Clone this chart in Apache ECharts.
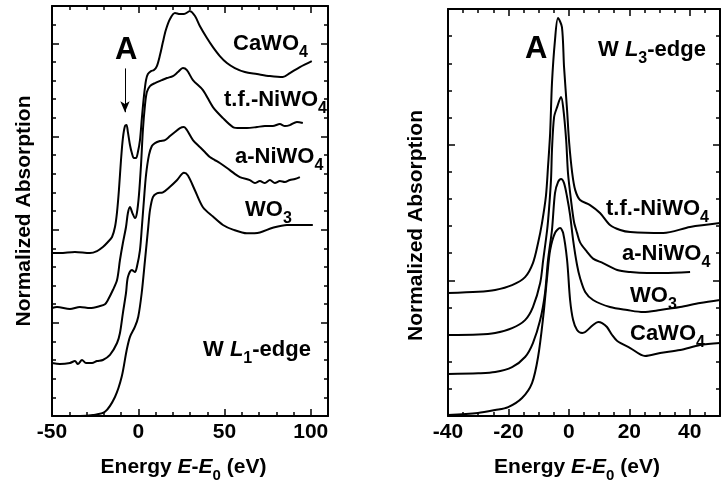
<!DOCTYPE html>
<html><head><meta charset="utf-8">
<script src="https://cdn.jsdelivr.net/npm/echarts@6/dist/echarts.min.js"></script>
<style>html,body{margin:0;padding:0;background:#fff}#c{width:721px;height:481px}</style>
</head><body><div id="c"></div>
<script>
// ---- W L1-edge panel (x: E-E0 in eV, y: normalized absorption, offset) ----
const l1CaWO4 = [[-50,1.749],[-45.4,1.749],[-36.7,1.76],[-28.0,1.749],[-23.9,1.77],[-20.5,1.813],[-17.6,1.867],[-15.2,1.921],[-13.5,2.028],[-12.3,2.189],[-11.2,2.425],[-10.0,2.747],[-8.9,2.983],[-7.7,3.112],[-6.8,3.122],[-6.0,3.047],[-4.8,2.908],[-3.7,2.822],[-2.5,2.768],[-1.3,2.768],[-0.2,2.833],[1.0,2.961],[2.1,3.197],[3.3,3.433],[4.5,3.605],[5.6,3.67],[7.4,3.702],[9.1,3.712],[10.8,3.755],[12.6,3.873],[14.3,4.013],[16.0,4.142],[18.4,4.26],[21.3,4.324],[24.2,4.313],[26.5,4.313],[30.0,4.345],[32.9,4.292],[35.7,4.185],[39.8,4.056],[43.3,3.959],[47.3,3.863],[51.4,3.788],[56.0,3.734],[61.8,3.691],[68.8,3.67],[76.3,3.648],[83.8,3.637],[87.9,3.68],[93.7,3.745],[100.6,3.809]];
const l1TfNiWO4 = [[-50,1.159],[-47.1,1.17],[-39.6,1.148],[-33.8,1.17],[-28.0,1.159],[-22.2,1.18],[-19.3,1.20],[-17.6,1.245],[-14.7,1.352],[-12.3,1.459],[-10.6,1.674],[-8.9,1.856],[-7.1,2.028],[-6.0,2.178],[-4.8,2.242],[-3.4,2.178],[-1.9,2.124],[-0.8,2.178],[0.4,2.371],[1.6,2.693],[2.7,3.069],[3.9,3.337],[5.0,3.476],[6.8,3.541],[9.7,3.573],[13.7,3.605],[16.6,3.627],[20.1,3.648],[23.0,3.691],[25.9,3.734],[28.2,3.712],[31.7,3.605],[37.5,3.498],[43.3,3.315],[49.1,3.197],[54.9,3.101],[58.9,3.09],[63.0,3.09],[68.8,3.101],[73.4,3.112],[78.0,3.112],[82.1,3.133],[85.0,3.112],[87.9,3.122],[92.0,3.155],[95.4,3.144]];
const l1ANiWO4 = [[-50,0.569],[-45.4,0.558],[-39.6,0.569],[-36.7,0.59],[-35.0,0.558],[-32.6,0.601],[-30.3,0.569],[-26.8,0.569],[-23.9,0.59],[-20.5,0.601],[-16.4,0.655],[-12.3,0.783],[-10.6,0.891],[-8.9,1.105],[-7.1,1.32],[-6.0,1.491],[-3.7,1.567],[-1.9,1.545],[-0.8,1.599],[1.0,1.781],[2.1,2.028],[3.3,2.318],[4.5,2.586],[6.2,2.80],[7.9,2.897],[9.7,2.929],[12.6,2.951],[15.5,2.961],[18.4,3.004],[21.3,3.047],[24.2,3.09],[26.5,3.101],[28.2,3.069],[31.7,2.961],[35.7,2.886],[38.6,2.833],[41.5,2.779],[44.4,2.747],[47.3,2.715],[53.1,2.639],[58.9,2.564],[64.7,2.532],[67.6,2.50],[70.5,2.521],[73.4,2.50],[76.3,2.532],[79.2,2.50],[82.1,2.521],[85.0,2.511],[87.9,2.532],[90.8,2.543],[93.7,2.564]];
const l1WO3 = [[-50,0.0],[-33.8,0.0],[-26.2,0.011],[-19.3,0.045],[-13.5,0.204],[-9.6,0.42],[-6.7,0.708],[-4.8,0.85],[-1.9,0.958],[0.0,1.065],[2.0,1.32],[3.9,1.67],[5.8,2.03],[6.8,2.21],[8.5,2.35],[10.8,2.39],[14.3,2.40],[18.4,2.46],[22.4,2.53],[26.5,2.61],[28.8,2.58],[32.9,2.42],[37.5,2.24],[43.3,2.14],[49.1,2.05],[54.9,2.00],[63.0,1.96],[70.5,1.97],[78.0,2.02],[86.2,2.05],[93.7,2.05],[101.2,2.05]];
const l1XTickLabels = [-50, 0, 50, 100];

// ---- W L3-edge panel ----
const l3TfNiWO4 = [[-40,0.906],[-30,0.915],[-24.4,0.929],[-18.8,0.965],[-14.5,1.024],[-11.9,1.127],[-10.2,1.275],[-8.9,1.422],[-7.6,1.62],[-6.9,1.84],[-6.2,2.085],[-5.6,2.454],[-4.6,2.771],[-3.6,2.933],[-2.3,2.867],[-1.6,2.572],[-0.6,2.255],[0.1,2.012],[1.1,1.791],[2.1,1.665],[3.7,1.592],[7.0,1.555],[10.3,1.496],[13.6,1.408],[17.0,1.371],[20.3,1.356],[31.2,1.349],[40.1,1.393],[50,1.422]];
const l3ANiWO4 = [[-40,0.597],[-30,0.600],[-24.4,0.612],[-18.8,0.648],[-14.5,0.707],[-11.9,0.803],[-9.5,0.980],[-8.5,1.150],[-7.2,1.371],[-6.6,1.518],[-5.9,1.75],[-5.6,1.96],[-4.9,2.203],[-3.9,2.277],[-2.6,2.351],[-1.9,2.277],[-0.9,2.034],[-0.3,1.791],[0.7,1.592],[1.7,1.43],[2.7,1.35],[3.7,1.28],[6.0,1.21],[8.0,1.16],[11.3,1.127],[16.0,1.076],[20.3,1.061],[25.9,1.054],[31.2,1.054],[40.1,1.061]];
const l3WO3 = [[-40,0.310],[-30,0.315],[-24.4,0.324],[-18.8,0.361],[-14.5,0.435],[-11.9,0.538],[-9.5,0.707],[-7.9,0.906],[-6.9,1.150],[-5.6,1.371],[-4.6,1.643],[-3.6,1.724],[-2.6,1.747],[-1.6,1.717],[-0.6,1.614],[0.4,1.481],[1.4,1.297],[2.7,1.113],[3.7,1.017],[5.4,0.914],[8.0,0.855],[13.6,0.803],[19.3,0.781],[24.6,0.766],[30.2,0.781],[36.8,0.803],[43.4,0.833],[50,0.855]];
const l3CaWO4 = [[-40,0.007],[-30.1,0.022],[-24.4,0.044],[-20.1,0.066],[-15.5,0.133],[-12.2,0.243],[-10.2,0.435],[-8.5,0.730],[-7.2,1.024],[-6.2,1.223],[-4.6,1.349],[-2.9,1.385],[-1.9,1.349],[-0.6,1.150],[0.4,0.855],[1.4,0.707],[2.7,0.634],[4.4,0.612],[5.4,0.619],[8.0,0.671],[9.7,0.693],[11.0,0.685],[12.6,0.656],[14.3,0.597],[16.0,0.553],[20.3,0.501],[25.2,0.442],[30.2,0.464],[36.8,0.486],[43.4,0.523],[50,0.538]];
const l3XTickLabels = [-40, -20, 0, 20, 40];

const FONT = '"Liberation Sans", Arial, Helvetica, sans-serif';
const chart = echarts.init(document.getElementById('c'), null, {renderer: 'canvas'});

function richSet(size, subSize, subPad) {
  return {
    n: {fontFamily: FONT, fontWeight: 'bold', fontSize: size, color: '#000', fill: '#000'},
    i: {fontFamily: FONT, fontWeight: 'bold', fontStyle: 'italic', fontSize: size, color: '#000', fill: '#000'},
    s: {fontFamily: FONT, fontWeight: 'bold', fontSize: subSize, color: '#000', fill: '#000', verticalAlign: 'bottom', padding: [subPad, 0, 0, 0]}
  };
}

const lineBase = {color: '#000', width: 2};
const tickStyle = {color: '#000', width: 1.5};

function xAxisPair(grid, min, max, interval, minorSplit, labels, nameRight) {
  const common = {
    type: 'value', gridIndex: grid, min: min, max: max, interval: interval,
    splitLine: {show: false},
    axisLine: {show: true, onZero: false, lineStyle: lineBase},
    axisTick: {show: true, inside: true, length: 7, lineStyle: tickStyle},
    minorTick: {show: true, splitNumber: minorSplit, length: 4, lineStyle: tickStyle}
  };
  return [
    Object.assign({}, common, {
      position: 'bottom',
      axisLabel: {show: true, margin: 6, color: '#000', fontFamily: FONT, fontWeight: 'bold', fontSize: 21,
        formatter: function (v) { return labels.indexOf(v) >= 0 ? String(v) : ''; }},
      name: '{n|Energy }{i|E}{n|-}{i|E}{s|0}{n| (eV)}',
      nameLocation: 'middle', nameGap: 36,
      nameTextStyle: {rich: richSet(21, 15, 16), padding: [0, nameRight, 0, 0]}
    }),
    Object.assign({}, common, {position: 'top', axisLabel: {show: false}})
  ];
}
function yAxisPair(grid, max, nameGap, namePad) {
  const common = {
    type: 'value', gridIndex: grid, min: 0, max: max, interval: 1,
    splitLine: {show: false},
    axisLine: {show: true, onZero: false, lineStyle: lineBase},
    axisTick: {show: true, inside: true, length: 7, lineStyle: tickStyle},
    minorTick: {show: true, splitNumber: 5, length: 4, lineStyle: tickStyle},
    axisLabel: {show: false}
  };
  return [
    Object.assign({}, common, {
      position: 'left', name: 'Normalized Absorption', nameLocation: 'middle', nameGap: nameGap,
      nameTextStyle: {color: '#000', fontFamily: FONT, fontWeight: 'bold', fontSize: 21, padding: namePad}
    }),
    Object.assign({}, common, {position: 'right'})
  ];
}

function line(data, xi, yi) {
  return {type: 'line', data: data, xAxisIndex: xi, yAxisIndex: yi, showSymbol: false, smooth: 0.3,
    lineStyle: {color: '#000', width: 2}, silent: true, animation: false};
}

function label(x, y, text, size, subSize, subPad) {
  return {type: 'text', x: x, y: y, silent: true,
    style: {text: text, rich: richSet(size, subSize || 16, subPad || 17), fill: '#000',
      font: 'bold ' + size + 'px ' + FONT,
      align: 'left', verticalAlign: 'middle', textAlign: 'left', textVerticalAlign: 'middle'}};
}

const arrowSeries = line(l1CaWO4, 0, 0);
arrowSeries.markLine = {silent: true, animation: false, symbol: ['none', 'arrow'], symbolSize: [7, 11],
  label: {show: false}, lineStyle: {color: '#000', width: 1, type: 'solid'},
  data: [[{coord: [-7.7, 3.73]}, {coord: [-7.7, 3.26]}]]};

const option = {
  backgroundColor: '#fff',
  animation: false,
  grid: [
    {left: 52, right: 393, top: 6, bottom: 65, containLabel: false, outerBoundsMode: 'none'},
    {left: 448, right: 1, top: 9, bottom: 65, containLabel: false, outerBoundsMode: 'none'}
  ],
  xAxis: [].concat(
    xAxisPair(0, -50, 110, 50, 5, l1XTickLabels, 13),
    xAxisPair(1, -40, 50, 20, 4, l3XTickLabels, 14)
  ),
  yAxis: [].concat(
    yAxisPair(0, 4.4, 17, [0, 0, 0, 0]),
    yAxisPair(1, 3, 21, [0, 26, 0, 0])
  ),
  series: [
    arrowSeries,
    line(l1TfNiWO4, 0, 0),
    line(l1ANiWO4, 0, 0),
    line(l1WO3, 0, 0),
    line(l3TfNiWO4, 2, 2),
    line(l3ANiWO4, 2, 2),
    line(l3WO3, 2, 2),
    line(l3CaWO4, 2, 2)
  ],
  graphic: [
    label(115, 50, '{n|A}', 31),
    label(233, 44, '{n|CaWO}{s|4}', 22),
    label(224, 100, '{n|t.f.-NiWO}{s|4}', 22),
    label(235, 157, '{n|a-NiWO}{s|4}', 22),
    label(245, 210, '{n|WO}{s|3}', 22),
    label(203, 350, '{n|W }{i|L}{s|1}{n|-edge}', 22),
    label(525, 49, '{n|A}', 31),
    label(598, 50, '{n|W }{i|L}{s|3}{n|-edge}', 22),
    label(606, 209, '{n|t.f.-NiWO}{s|4}', 22),
    label(622, 254, '{n|a-NiWO}{s|4}', 22),
    label(630, 296, '{n|WO}{s|3}', 22),
    label(630, 334, '{n|CaWO}{s|4}', 22)
  ]
};
chart.setOption(option);
</script>
</body></html>
